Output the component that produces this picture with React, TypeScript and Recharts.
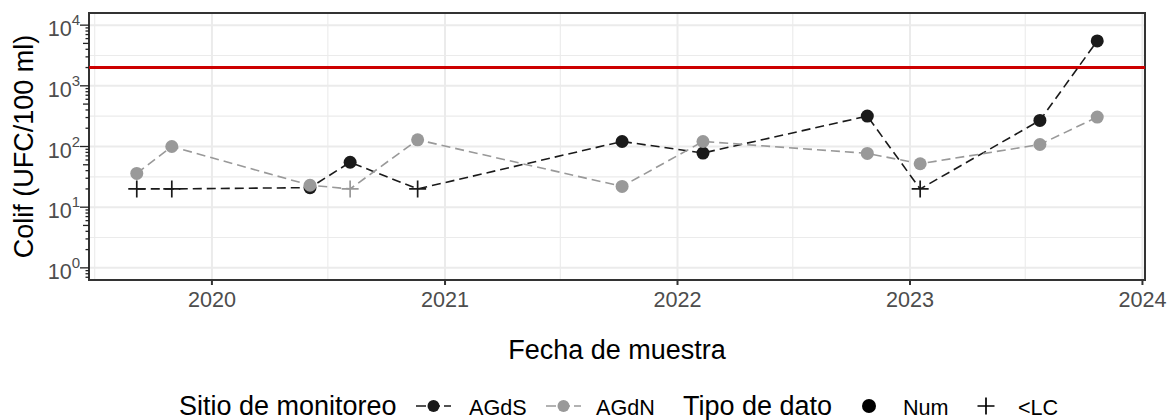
import React from 'react';
import { LineChart, Line, XAxis, YAxis, CartesianGrid, ReferenceLine, ReferenceArea } from 'recharts';

// ---- data ----
const fechas = ['2019-09-05', '2019-10-30', '2020-06-03', '2020-08-05', '2020-11-19', '2021-10-06', '2022-02-10', '2022-10-26', '2023-01-17', '2023-07-24', '2023-10-22'];
const agdsValores = [20, 20, 21, 55, 20, 121, 78, 317, 20, 269, 5500];
const agdsTipo = ['<LC', '<LC', 'Num', 'Num', '<LC', 'Num', 'Num', 'Num', '<LC', 'Num', 'Num'];
const agdnValores = [36, 100, 23, 20, 129, 22, 121, 77, 52, 108, 305];
const agdnTipo = ['Num', 'Num', 'Num', '<LC', 'Num', 'Num', 'Num', 'Num', 'Num', 'Num', 'Num'];
const limite = 2000;
const anios = [2020, 2021, 2022, 2023, 2024];
const mediosAnios = ['2019-07-01', '2020-07-01', '2021-07-01', '2022-07-01', '2023-07-01'];
const decadas = [1, 10, 100, 1000, 10000];
const mediasDecadas = [3.1623, 31.623, 316.23, 3162.3];
const multiplos = [1, 2, 3, 4, 5, 6, 7, 8, 9];
const rangoFechas = ['2019-06-22', '2024-01-05'];
const rangoY = [0.631, 15849];

const ts = (s: string) => Date.parse(s + 'T00:00:00Z');
const data = fechas.map((f, i) => ({
  t: ts(f),
  agds: agdsValores[i],
  agdsTipo: agdsTipo[i],
  agdn: agdnValores[i],
  agdnTipo: agdnTipo[i],
}));
const xTicks = anios.map((a) => Date.UTC(a, 0, 1));
const xMinor = mediosAnios.map(ts);
const yTicks: number[] = [0.7, 0.8, 0.9];
decadas.slice(0, 4).forEach((d) => multiplos.forEach((m) => yTicks.push(d * m)));
yTicks.push(10000);

// ---- layout ----
const W = 1167;
const H = 420;
const LEFT = 89;
const RIGHT = 1145;
const TOP = 13;
const BOTTOM = 280;
const FONT = "Arial, 'Liberation Sans', sans-serif";
const C_S = '#1A1A1A';
const C_N = '#999999';

const YTick = (props: any) => {
  const { y, payload } = props;
  const v = payload.value;
  const lg = Math.log10(v);
  const exp = Math.round(lg);
  const isDec = Math.abs(lg - exp) < 1e-6;
  const mant = Math.round(v / Math.pow(10, Math.floor(lg + 1e-9)));
  const len = isDec ? 9 : mant === 5 ? 6 : 3.5;
  return (
    <g>
      <line x1={LEFT - len} x2={LEFT} y1={y} y2={y} stroke="#222" strokeWidth={1.3} />
      {isDec && (
        <text x={80} y={y + 11} textAnchor="end" fontFamily={FONT} fontSize={21.6} fill="#4D4D4D">
          <tspan>10</tspan>
          <tspan dy={-11} fontSize={15}>{exp}</tspan>
        </text>
      )}
    </g>
  );
};

const XTick = (props: any) => {
  const { x, payload } = props;
  return (
    <g>
      <line x1={x} x2={x} y1={BOTTOM} y2={BOTTOM + 5} stroke="#333" strokeWidth={2} />
      <text x={x} y={BOTTOM + 26.7} textAnchor="middle" fontFamily={FONT} fontSize={21.6} fill="#4D4D4D">
        {new Date(payload.value).getUTCFullYear()}
      </text>
    </g>
  );
};

const makeDot = (color: string, tipoKey: string) => (props: any) => {
  const { cx, cy, payload, index } = props;
  if (cx == null || cy == null) return <g key={`e${index}`} />;
  if (payload[tipoKey] === '<LC') {
    const a = 8.5;
    return (
      <path
        key={`p${index}`}
        d={`M${cx - a},${cy}H${cx + a}M${cx},${cy - a}V${cy + a}`}
        stroke={color}
        strokeWidth={1.7}
        fill="none"
      />
    );
  }
  return <circle key={`c${index}`} cx={cx} cy={cy} r={6.5} fill={color} />;
};

const Legend = () => {
  const base = 415;
  const ky = 406;
  return (
    <svg width={W} height={H} style={{ position: 'absolute', left: 0, top: 0, pointerEvents: 'none' }}>
      <g fontFamily={FONT}>
        <text x={179} y={base} fontSize={27} fill="#000">Sitio de monitoreo</text>
        <line x1={416} x2={451} y1={ky} y2={ky} stroke={C_S} strokeWidth={1.6} strokeDasharray="10 4" />
        <circle cx={433.5} cy={ky} r={6} fill={C_S} />
        <text x={469} y={base} fontSize={21.6} fill="#000">AGdS</text>
        <line x1={546} x2={581} y1={ky} y2={ky} stroke={C_N} strokeWidth={1.6} strokeDasharray="10 4" />
        <circle cx={563.5} cy={ky} r={6} fill={C_N} />
        <text x={596} y={base} fontSize={21.6} fill="#000">AGdN</text>
        <text x={683} y={base} fontSize={27} fill="#000">Tipo de dato</text>
        <circle cx={869} cy={ky} r={7} fill="#000" />
        <text x={903} y={base} fontSize={21.6} fill="#000">Num</text>
        <path d={`M${986 - 8.5},${ky}H${986 + 8.5}M986,${ky - 8.5}V${ky + 8.5}`} stroke="#000" strokeWidth={1.7} fill="none" />
        <text x={1018} y={base} fontSize={21.6} fill="#000">&lt;LC</text>
      </g>
    </svg>
  );
};

export default function App() {
  return (
    <div style={{ position: 'absolute', left: 0, top: 0, width: W, height: H, background: '#fff' }}>
      <LineChart
        width={W}
        height={H}
        data={data}
        margin={{ top: TOP, right: W - RIGHT, bottom: 0, left: 0 }}
      >
        <CartesianGrid
          horizontalValues={mediasDecadas}
          verticalValues={xMinor}
          stroke="#EBEBEB"
          strokeWidth={1.1}
        />
        <CartesianGrid
          horizontalValues={decadas}
          verticalValues={xTicks}
          stroke="#EBEBEB"
          strokeWidth={2}
        />
        <XAxis
          type="number"
          dataKey="t"
          domain={[ts(rangoFechas[0]), ts(rangoFechas[1])]}
          ticks={xTicks}
          interval={0}
          allowDataOverflow
          height={H - BOTTOM}
          axisLine={false}
          tickLine={false}
          tick={<XTick />}
          label={{
            content: () => (
              <text x={(LEFT + RIGHT) / 2} y={359} textAnchor="middle" fontFamily={FONT} fontSize={27} fill="#000">
                Fecha de muestra
              </text>
            ),
          }}
        />
        <YAxis
          type="number"
          scale="log"
          domain={rangoY}
          ticks={yTicks}
          interval={0}
          allowDataOverflow
          width={LEFT}
          axisLine={false}
          tickLine={false}
          tick={<YTick />}
          label={{
            content: () => (
              <text
                x={32.5}
                y={(TOP + BOTTOM) / 2}
                transform={`rotate(-90, 32.5, ${(TOP + BOTTOM) / 2})`}
                textAnchor="middle"
                fontFamily={FONT}
                fontSize={27}
                fill="#000"
              >
                Colif (UFC/100 ml)
              </text>
            ),
          }}
        />
        <ReferenceLine y={limite} stroke="#CD0000" strokeWidth={3} ifOverflow="visible" />
        <Line dataKey="agds" stroke={C_S} strokeWidth={1.6} strokeDasharray="9 5" dot={false} activeDot={false} isAnimationActive={false} />
        <Line dataKey="agdn" stroke={C_N} strokeWidth={1.6} strokeDasharray="9 5" dot={false} activeDot={false} isAnimationActive={false} />
        <Line dataKey="agds" stroke="none" dot={makeDot(C_S, 'agdsTipo')} activeDot={false} isAnimationActive={false} />
        <Line dataKey="agdn" stroke="none" dot={makeDot(C_N, 'agdnTipo')} activeDot={false} isAnimationActive={false} />
        <ReferenceArea
          x1={ts(rangoFechas[0])}
          x2={ts(rangoFechas[1])}
          y1={rangoY[0]}
          y2={rangoY[1]}
          fill="none"
          fillOpacity={0}
          stroke="#333"
          strokeWidth={2}
          ifOverflow="visible"
        />
      </LineChart>
      <Legend />
    </div>
  );
}
